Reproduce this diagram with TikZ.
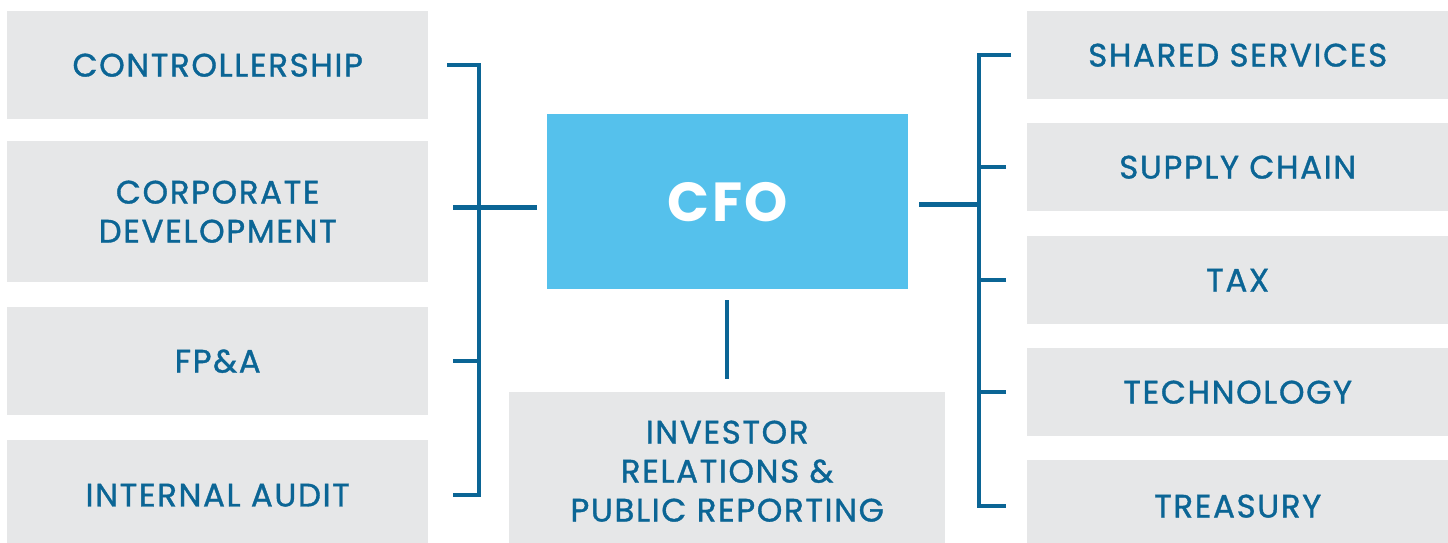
\documentclass[tikz,border=0pt]{standalone}
\usepackage{fontspec}
\setmainfont{Poppins}
\newfontfamily\boxfont{Poppins}[FakeBold=1.1, LetterSpace=5]
\newfontfamily\cfofont{Poppins}[LetterSpace=4]
\usepackage{xcolor}
\definecolor{linkblue}{HTML}{0B6595}
\definecolor{boxgray}{HTML}{E6E7E8}
\definecolor{cfoblue}{HTML}{55C1EC}

\begin{document}
\begin{tikzpicture}[
  x=1pt, y=-1pt,
  abteilung/.style={
    shape=rectangle, anchor=north west, fill=boxgray, inner sep=0pt,
    text=linkblue, align=center, font=\boxfont\fontsize{32.5}{39}\selectfont
  },
  chef/.style={
    shape=rectangle, anchor=north west, fill=cfoblue, inner sep=0pt,
    minimum width=361pt, minimum height=175pt,
    text=white, font=\cfofont\fontsize{55}{60}\selectfont\bfseries
  },
  link/.style={draw=linkblue, line width=4.5pt}
]

\clip (0,0) rectangle (1448,543);

% left column
\draw (7, 11) node [abteilung, minimum width=421pt, minimum height=108pt] (n1) {CONTROLLERSHIP};
\draw (7, 141) node [abteilung, minimum width=421pt, minimum height=141pt] (n2) {CORPORATE\\DEVELOPMENT};
\draw (7, 307) node [abteilung, minimum width=421pt, minimum height=108pt] (n3) {FP\&A};
\draw (7, 440) node [abteilung, minimum width=421pt, minimum height=110pt] (n4) {INTERNAL AUDIT};

% middle
\draw (547, 114) node [chef] (cfo) {CFO};
\draw (509, 392) node [abteilung, minimum width=436pt, minimum height=158pt] (n5) {INVESTOR\\RELATIONS \&\\PUBLIC REPORTING};

% right column
\draw (1027, 11) node [abteilung, minimum width=421pt, minimum height=88pt] (n6) {SHARED SERVICES};
\draw (1027, 123) node [abteilung, minimum width=421pt, minimum height=88pt] (n7) {SUPPLY CHAIN};
\draw (1027, 236) node [abteilung, minimum width=421pt, minimum height=88pt] (n8) {TAX};
\draw (1027, 348) node [abteilung, minimum width=421pt, minimum height=88pt] (n9) {TECHNOLOGY};
\draw (1027, 460) node [abteilung, minimum width=421pt, minimum height=92pt] (n10) {TREASURY};

\coordinate (lbus) at (479, 0);
\coordinate (rbus) at (979, 0);
\coordinate (cl) at ([xshift=-10pt,yshift=-6pt]cfo.west);
\coordinate (cr) at ([xshift=11pt,yshift=-3pt]cfo.east);
\coordinate (cb) at ([yshift=-11pt]cfo.south);

% left bracket
\draw [link] ([xshift=19pt]n1.east) -| (lbus |- n4.east) -- ([xshift=25pt]n4.east);
\draw [link] ([xshift=25pt]n3.east) -- (lbus |- n3.east);
\draw [link] (cl) -- ([xshift=25pt]n2.east |- cl);

% right bracket
\draw [link] ([xshift=-16pt]n6.west) -| (rbus |- n10.west) -- ([xshift=-21pt]n10.west);
\foreach \n in {n7,n8,n9}
  \draw [link] ([xshift=-21pt]\n.west) -- (rbus |- \n.west);
\draw [link] (cr) -- (rbus |- cr);

% down to investor relations
\draw [link] (n5.north |- cb) -- ([yshift=13pt]n5.north);

\end{tikzpicture}
\end{document}
